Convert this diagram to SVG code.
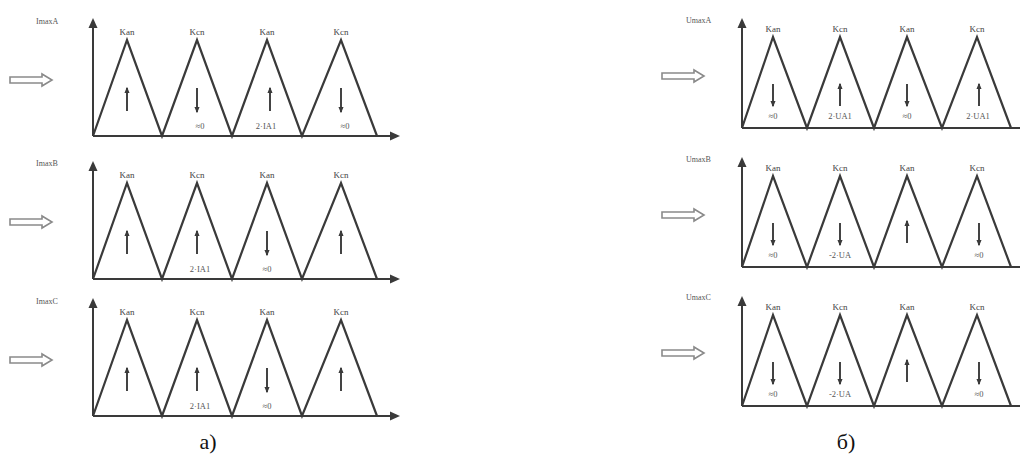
<svg xmlns="http://www.w3.org/2000/svg" width="1020" height="455" viewBox="0 0 1020 455">
<style>
.ax{stroke:#3a3a3a;stroke-width:2;fill:none}
.zz{stroke:#3a3a3a;stroke-width:2.2;fill:none;stroke-linejoin:miter}
.ah{fill:#3a3a3a}
.ia{stroke:#3a3a3a;stroke-width:1.9;fill:none;marker-end:url(#head)}
.pk{font-family:"Liberation Serif",serif;font-size:9px;fill:#444;text-anchor:middle}
.lb{font-family:"Liberation Serif",serif;font-size:8px;fill:#555}
.vt{font-family:"Liberation Serif",serif;font-size:8.5px;fill:#555;text-anchor:middle}
.da{stroke:#8a8a8a;stroke-width:1.6;fill:#fff}
.cap{font-family:"Liberation Serif",serif;font-size:22px;fill:#111;text-anchor:middle}
</style>
<defs>
<marker id="head" viewBox="0 0 10 10" refX="8" refY="5" markerWidth="3.5" markerHeight="3.5" orient="auto">
<path d="M0,1 L10,5 L0,9 Z" fill="#3a3a3a"/>
</marker>
<path id="dbl" class="da" d="M0,-3 L32,-3 L32,-6 L42,0 L32,6 L32,3 L0,3 Z"/>
</defs>

<g id="panel-a">
<g id="a-row1">
<use href="#dbl" x="10" y="80"/>
<text class="lb" x="36" y="24">ImaxA</text>
<line class="ax" x1="93" y1="136" x2="93" y2="26"/>
<polygon class="ah" points="88.5,28 93,18 97.5,28"/>
<line class="ax" x1="93" y1="136" x2="392" y2="136"/>
<polygon class="ah" points="390,131.5 400,136 390,140.5"/>
<polyline class="zz" points="93,136 127,40 162,136 197,40 232,136 267,40 302,136 341,40 377,136"/>
<text class="pk" x="127" y="35">Kan</text><text class="pk" x="197" y="35">Kcn</text><text class="pk" x="267" y="35">Kan</text><text class="pk" x="341" y="35">Kcn</text>
<line class="ia" x1="127" y1="111" x2="127" y2="88"/>
<line class="ia" x1="197" y1="88" x2="197" y2="112"/><text class="vt" x="200" y="129">≈0</text>
<line class="ia" x1="270" y1="111" x2="270" y2="88"/><text class="vt" x="266" y="129">2·IA1</text>
<line class="ia" x1="341" y1="88" x2="341" y2="112"/><text class="vt" x="345" y="129">≈0</text>
</g>
<g id="a-row2">
<use href="#dbl" x="10" y="222"/>
<text class="lb" x="36" y="166">ImaxB</text>
<line class="ax" x1="93" y1="279" x2="93" y2="169"/>
<polygon class="ah" points="88.5,171 93,161 97.5,171"/>
<line class="ax" x1="93" y1="279" x2="392" y2="279"/>
<polygon class="ah" points="390,274.5 400,279 390,283.5"/>
<polyline class="zz" points="93,279 127,183 162,279 197,183 232,279 267,183 302,279 341,183 377,279"/>
<text class="pk" x="127" y="178">Kan</text><text class="pk" x="197" y="178">Kcn</text><text class="pk" x="267" y="178">Kan</text><text class="pk" x="341" y="178">Kcn</text>
<line class="ia" x1="127" y1="254" x2="127" y2="231"/>
<line class="ia" x1="197" y1="254" x2="197" y2="231"/><text class="vt" x="200" y="272">2·IA1</text>
<line class="ia" x1="267" y1="231" x2="267" y2="255"/><text class="vt" x="267" y="272">≈0</text>
<line class="ia" x1="341" y1="254" x2="341" y2="231"/>
</g>
<g id="a-row3">
<use href="#dbl" x="10" y="360"/>
<text class="lb" x="36" y="304">ImaxC</text>
<line class="ax" x1="93" y1="416" x2="93" y2="306"/>
<polygon class="ah" points="88.5,308 93,298 97.5,308"/>
<line class="ax" x1="93" y1="416" x2="392" y2="416"/>
<polygon class="ah" points="390,411.5 400,416 390,420.5"/>
<polyline class="zz" points="93,416 127,320 162,416 197,320 232,416 267,320 302,416 341,320 377,416"/>
<text class="pk" x="127" y="315">Kan</text><text class="pk" x="197" y="315">Kcn</text><text class="pk" x="267" y="315">Kan</text><text class="pk" x="341" y="315">Kcn</text>
<line class="ia" x1="127" y1="391" x2="127" y2="368"/>
<line class="ia" x1="197" y1="391" x2="197" y2="368"/><text class="vt" x="200" y="409">2·IA1</text>
<line class="ia" x1="267" y1="368" x2="267" y2="392"/><text class="vt" x="267" y="409">≈0</text>
<line class="ia" x1="341" y1="391" x2="341" y2="368"/>
</g>
<text class="cap" x="208" y="449">a)</text>
</g>

<g id="panel-b">
<g id="b-row1">
<use href="#dbl" x="662" y="76"/>
<text class="lb" x="686" y="23">UmaxA</text>
<line class="ax" x1="742" y1="128" x2="742" y2="26"/>
<polygon class="ah" points="737.5,28 742,18 746.5,28"/>
<line class="ax" x1="742" y1="128" x2="1020" y2="128"/>
<polyline class="zz" points="742,128 773,37 807,128 840,37 874,128 907,37 942,128 977,37 1011,128"/>
<text class="pk" x="773" y="32">Kan</text><text class="pk" x="840" y="32">Kcn</text><text class="pk" x="907" y="32">Kan</text><text class="pk" x="977" y="32">Kcn</text>
<line class="ia" x1="773" y1="84" x2="773" y2="106"/><text class="vt" x="773" y="119">≈0</text>
<line class="ia" x1="840" y1="106" x2="840" y2="84"/><text class="vt" x="840" y="119">2·UA1</text>
<line class="ia" x1="907" y1="84" x2="907" y2="106"/><text class="vt" x="907" y="119">≈0</text>
<line class="ia" x1="979" y1="106" x2="979" y2="84"/><text class="vt" x="978" y="119">2·UA1</text>
</g>
<g id="b-row2">
<use href="#dbl" x="662" y="215"/>
<text class="lb" x="686" y="162">UmaxB</text>
<line class="ax" x1="742" y1="267" x2="742" y2="165"/>
<polygon class="ah" points="737.5,167 742,157 746.5,167"/>
<line class="ax" x1="742" y1="267" x2="1020" y2="267"/>
<polyline class="zz" points="742,267 773,176 807,267 840,176 874,267 907,176 942,267 977,176 1011,267"/>
<text class="pk" x="773" y="171">Kan</text><text class="pk" x="840" y="171">Kcn</text><text class="pk" x="907" y="171">Kan</text><text class="pk" x="977" y="171">Kcn</text>
<line class="ia" x1="773" y1="223" x2="773" y2="245"/><text class="vt" x="773" y="258">≈0</text>
<line class="ia" x1="840" y1="223" x2="840" y2="245"/><text class="vt" x="840" y="258">-2·UA</text>
<line class="ia" x1="907" y1="243" x2="907" y2="221"/>
<line class="ia" x1="979" y1="223" x2="979" y2="245"/><text class="vt" x="979" y="258">≈0</text>
</g>
<g id="b-row3">
<use href="#dbl" x="662" y="353"/>
<text class="lb" x="686" y="300">UmaxC</text>
<line class="ax" x1="742" y1="406" x2="742" y2="304"/>
<polygon class="ah" points="737.5,306 742,296 746.5,306"/>
<line class="ax" x1="742" y1="406" x2="1020" y2="406"/>
<polyline class="zz" points="742,406 773,315 807,406 840,315 874,406 907,315 942,406 977,315 1011,406"/>
<text class="pk" x="773" y="310">Kan</text><text class="pk" x="840" y="310">Kcn</text><text class="pk" x="907" y="310">Kan</text><text class="pk" x="977" y="310">Kcn</text>
<line class="ia" x1="773" y1="362" x2="773" y2="384"/><text class="vt" x="773" y="397">≈0</text>
<line class="ia" x1="840" y1="362" x2="840" y2="384"/><text class="vt" x="840" y="397">-2·UA</text>
<line class="ia" x1="907" y1="382" x2="907" y2="360"/>
<line class="ia" x1="979" y1="362" x2="979" y2="384"/><text class="vt" x="979" y="397">≈0</text>
</g>
<text class="cap" x="846" y="449">б)</text>
</g>
</svg>
